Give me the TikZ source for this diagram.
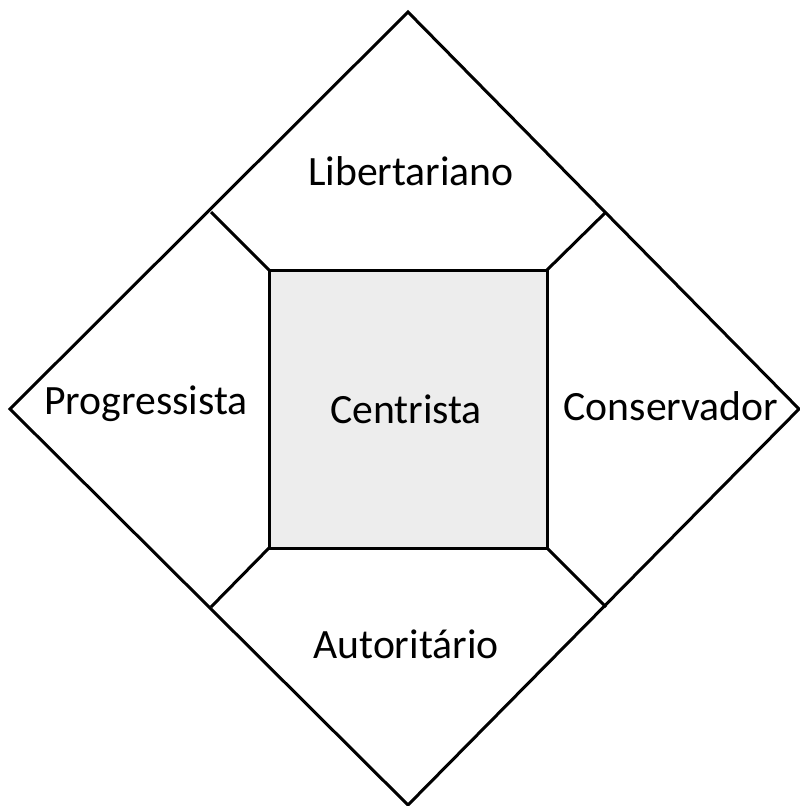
\documentclass[tikz,border=0pt]{standalone}
\usepackage{fontspec}
\setmainfont{Carlito}
\begin{document}
\begin{tikzpicture}[x=1pt,y=-1pt,
  edge/.style={line width=3pt,line join=miter,black},
  lbl/.style={font=\fontsize{41.7}{50}\selectfont,inner sep=0pt,anchor=center}]
\useasboundingbox (0,0) rectangle (800,806);
\coordinate (T) at (408,12);
\coordinate (L) at (10,409);
\coordinate (R) at (799,409);
\coordinate (B) at (408,805);
\coordinate (c1) at (269,270);
\coordinate (c2) at (547,270);
\coordinate (c3) at (547,548);
\coordinate (c4) at (269,548);
\coordinate (e1) at (211,212);
\coordinate (e2) at (606,212);
\coordinate (e3) at (606,607);
\coordinate (e4) at (211,607);
\draw[edge] (T) -- (R) -- (B) -- (L) -- cycle;
\draw[edge,fill={rgb,255:red,237;green,237;blue,237}] (c1) -- (c2) -- (c3) -- (c4) -- cycle;
\draw[edge] (c1) -- (e1);
\draw[edge] (c2) -- (e2);
\draw[edge] (c3) -- (e3);
\draw[edge] (c4) -- (e4);
\node[lbl] (lib) at (411,171) {Libertariano};
\node[lbl] (pro) at (146,404) {Progressista};
\node[lbl] (cen) at (406,409) {Centrista};
\node[lbl] (con) at (671,406) {Conservador};
\node[lbl] (aut) at (406,644) {Autoritário};
\end{tikzpicture}
\end{document}
